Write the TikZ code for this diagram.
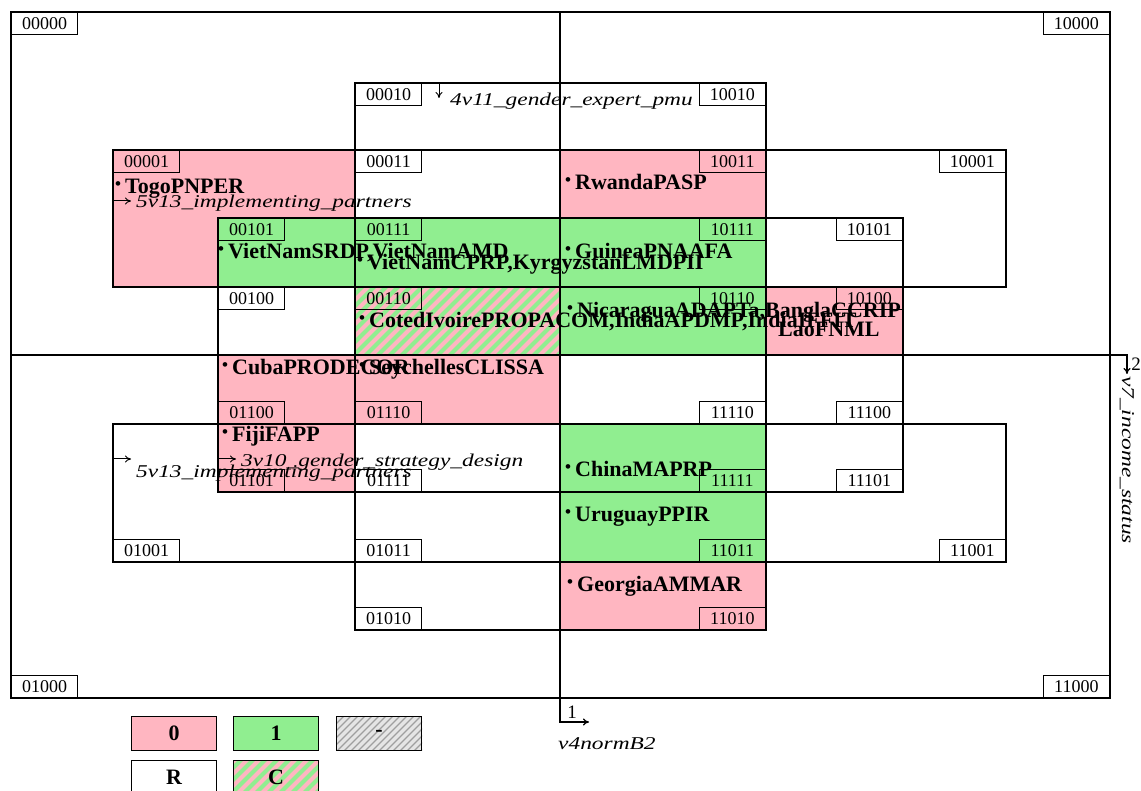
\documentclass[tikz,border=0pt]{standalone}
\usepackage{fontspec}
\setmainfont{Liberation Serif}
\usepackage{graphicx}
\usetikzlibrary{arrows.meta}
\definecolor{pk}{HTML}{FFB6C1}
\definecolor{gn}{HTML}{90EE90}
\newcommand{\bul}{{\fontsize{17}{17}\selectfont\raisebox{4pt}{\textbullet}}\hspace{4pt}}
\newcommand{\vlab}[1]{\scalebox{1.3}[1]{#1}}
\tikzset{
  bx/.style={draw, line width=1.3pt},
  code/.style={draw, line width=1.3pt, minimum width=66pt, minimum height=22pt, inner sep=0pt, font=\fontsize{18}{18}\selectfont},
  item/.style={anchor=base west, inner sep=0pt, font=\fontsize{22}{22}\selectfont\bfseries},
  var/.style={anchor=base west, inner sep=0pt, font=\fontsize{18}{18}\selectfont\itshape},
  tip/.style={-{To[length=6pt,width=7pt]}, line width=1.3pt},
  legend/.style={draw, line width=1.3pt, minimum width=85pt, minimum height=34pt, inner sep=0pt, font=\fontsize{22}{22}\selectfont\bfseries},
}
\begin{document}
\begin{tikzpicture}[x=1pt, y=-1pt]
\useasboundingbox (0,0) rectangle (1141,791);
% ---------- fills ----------
\fill[pk] (113,150) -- (355,150) -- (355,218) -- (218,218) -- (218,287) -- (113,287) -- cycle;
\fill[pk] (560,150) rectangle (766,218);
\fill[pk] (766,287) rectangle (903,355);
\fill[pk] (218,355) rectangle (355,424);
\fill[pk] (355,355) rectangle (560,424);
\fill[pk] (218,424) rectangle (355,492);
\fill[pk] (560,562) rectangle (766,630);
\fill[gn] (218,218) rectangle (355,287);
\fill[gn] (355,218) rectangle (560,287);
\fill[gn] (560,218) rectangle (766,287);
\fill[gn] (560,287) rectangle (766,355);
\fill[gn] (560,424) rectangle (766,492);
\fill[gn] (560,492) rectangle (766,562);
% hatched cell 00110
\fill[gn] (355,287) rectangle (560,355);
\begin{scope}
  \clip (355,287) rectangle (560,355);
  \foreach \s in {-84,-72,...,216} \draw[pk, line width=4pt] (355+\s,360) -- ++(80,-80);
\end{scope}
% ---------- outlines ----------
\draw[bx] (11,12) rectangle (1110,698);
\draw[bx] (355,83) rectangle (560,150);
\draw[bx] (560,83) rectangle (766,150);
\draw[bx] (355,150) rectangle (560,218);
\draw[bx] (560,150) rectangle (766,218);
\draw[bx] (113,150) -- (355,150) -- (355,218) -- (218,218) -- (218,287) -- (113,287) -- cycle;
\draw[bx] (766,150) -- (1006,150) -- (1006,287) -- (903,287) -- (903,218) -- (766,218) -- cycle;
\draw[bx] (218,218) rectangle (355,287);
\draw[bx] (355,218) rectangle (560,287);
\draw[bx] (560,218) rectangle (766,287);
\draw[bx] (766,218) rectangle (903,287);
\draw[bx] (218,287) rectangle (355,355);
\draw[bx] (355,287) rectangle (560,355);
\draw[bx] (560,287) rectangle (766,355);
\draw[bx] (766,287) rectangle (903,355);
\draw[bx] (218,355) rectangle (355,424);
\draw[bx] (355,355) rectangle (560,424);
\draw[bx] (560,355) rectangle (766,424);
\draw[bx] (766,355) rectangle (903,424);
\draw[bx] (218,424) rectangle (355,492);
\draw[bx] (355,424) rectangle (560,492);
\draw[bx] (560,424) rectangle (766,492);
\draw[bx] (766,424) rectangle (903,492);
\draw[bx] (113,424) -- (218,424) -- (218,492) -- (355,492) -- (355,562) -- (113,562) -- cycle;
\draw[bx] (355,492) rectangle (560,562);
\draw[bx] (560,492) rectangle (766,562);
\draw[bx] (903,424) -- (1006,424) -- (1006,562) -- (766,562) -- (766,492) -- (903,492) -- cycle;
\draw[bx] (355,562) rectangle (560,630);
\draw[bx] (560,562) rectangle (766,630);
% ---------- axes ----------
\coordinate (vtop) at (560,12);
\coordinate (vbend) at (560,722);
\coordinate (vend) at (589,722);
\coordinate (hleft) at (11,355);
\coordinate (hbend) at (1127,355);
\coordinate (hend) at (1127,374);
\draw[tip] (vtop) -- (vbend) -- (vend);
\draw[tip] (hleft) -- (hbend) -- (hend);
\node[font=\fontsize{19}{19}\selectfont, inner sep=0pt] (one) at (572,712) {1};
\node[var] (v4) at (558,749) {\vlab{v4normB2}};
\node[font=\fontsize{19}{19}\selectfont, inner sep=0pt] (two) at (1136,364) {2};
\node[var, rotate=-90, anchor=west] (v7) at (1127,376) {\vlab{v7\_income\_status}};
% ---------- code labels ----------
\node[code, anchor=north west] (c00000) at (11,12) {00000};
\node[code, anchor=north east] (c10000) at (1110,12) {10000};
\node[code, anchor=south west] (c01000) at (11,698) {01000};
\node[code, anchor=south east] (c11000) at (1110,698) {11000};
\node[code, anchor=north west] (c00010) at (355,83) {00010};
\node[code, anchor=north east] (c10010) at (766,83) {10010};
\node[code, anchor=north west] (c00011) at (355,150) {00011};
\node[code, anchor=north east] (c10011) at (766,150) {10011};
\node[code, anchor=north west] (c00001) at (113,150) {00001};
\node[code, anchor=north east] (c10001) at (1006,150) {10001};
\node[code, anchor=north west] (c00101) at (218,218) {00101};
\node[code, anchor=north west] (c00111) at (355,218) {00111};
\node[code, anchor=north east] (c10111) at (766,218) {10111};
\node[code, anchor=north east] (c10101) at (903,218) {10101};
\node[code, anchor=north west] (c00100) at (218,287) {00100};
\node[code, anchor=north west] (c00110) at (355,287) {00110};
\node[code, anchor=north east] (c10110) at (766,287) {10110};
\node[code, anchor=north east] (c10100) at (903,287) {10100};
\node[code, anchor=south west] (c01100) at (218,424) {01100};
\node[code, anchor=south west] (c01110) at (355,424) {01110};
\node[code, anchor=south east] (c11110) at (766,424) {11110};
\node[code, anchor=south east] (c11100) at (903,424) {11100};
\node[code, anchor=south west] (c01101) at (218,492) {01101};
\node[code, anchor=south west] (c01111) at (355,492) {01111};
\node[code, anchor=south east] (c11111) at (766,492) {11111};
\node[code, anchor=south east] (c11101) at (903,492) {11101};
\node[code, anchor=south west] (c01001) at (113,562) {01001};
\node[code, anchor=south west] (c01011) at (355,562) {01011};
\node[code, anchor=south east] (c11011) at (766,562) {11011};
\node[code, anchor=south east] (c11001) at (1006,562) {11001};
\node[code, anchor=south west] (c01010) at (355,630) {01010};
\node[code, anchor=south east] (c11010) at (766,630) {11010};
% ---------- variable arrows ----------
\coordinate (a4s) at (439,83);
\coordinate (a4e) at (439,98);
\draw[tip, line width=1pt] (a4s) -- (a4e);
\node[var] (v11) at (450,106) {\vlab{4v11\_gender\_expert\_pmu}};
\coordinate (a5s) at (113,201);
\coordinate (a5e) at (131,201);
\draw[tip, line width=1pt] (a5s) -- (a5e);
\node[var] (v13a) at (136,208) {\vlab{5v13\_implementing\_partners}};
\coordinate (b5s) at (113,459);
\coordinate (b5e) at (131,459);
\draw[tip, line width=1pt] (b5s) -- (b5e);
\node[var] (v13b) at (136,478) {\vlab{5v13\_implementing\_partners}};
\coordinate (a3s) at (218,459);
\coordinate (a3e) at (236,459);
\draw[tip, line width=1pt] (a3s) -- (a3e);
\node[var] (v10) at (241,467) {\vlab{3v10\_gender\_strategy\_design}};
% ---------- cell contents ----------
\node[item] (t00001) at (115,194) {\bul TogoPNPER};
\node[item] (t10011) at (565,190) {\bul RwandaPASP};
\node[item] (t00101) at (218,259) {\bul VietNamSRDP,VietNamAMD};
\node[item] (t00111) at (357,270) {\bul VietNamCPRP,KyrgyzstanLMDPII};
\node[item] (t10111) at (565,259) {\bul GuineaPNAAFA};
\node[item] (t00110) at (359,328) {\bul CotedIvoirePROPACOM,IndiaAPDMP,IndiaIFFIT};
\node[item] (t10110) at (567,318) {\bul NicaraguaADAPTa,BanglaCCRIP};
\node[item] (t10100) at (778,337) {LaoFNML};
\node[item] (t01100) at (222,375) {\bul CubaPRODECOR};
\node[item] (t01110) at (359,375) {\bul SeychellesCLISSA};
\node[item] (t01101) at (222,442) {\bul FijiFAPP};
\node[item] (t11111) at (565,477) {\bul ChinaMAPRP};
\node[item] (t11011) at (565,521) {\bul UruguayPPIR};
\node[item] (t11010) at (567,591) {\bul GeorgiaAMMAR};
% ---------- legend ----------
\node[legend, fill=pk, anchor=north west] (L0) at (131,716) {0};
\node[legend, fill=gn, anchor=north west] (L1) at (233,716) {1};
\fill[gray!20] (336,716) rectangle (422,750);
\begin{scope}
  \clip (336,716) rectangle (422,750);
  \foreach \s in {-42,-35,...,100} \draw[gray!75, line width=1.3pt] (336+\s,752) -- ++(40,-40);
\end{scope}
\node[legend, anchor=north west] (Ld) at (336,716) {-};
\node[legend, anchor=north west] (LR) at (131,760) {R};
\fill[gn] (233,760) rectangle (319,794);
\begin{scope}
  \clip (233,760) rectangle (319,794);
  \foreach \s in {-48,-36,...,100} \draw[pk, line width=4pt] (233+\s,798) -- ++(45,-45);
\end{scope}
\node[legend, anchor=north west] (LC) at (233,760) {C};
\end{tikzpicture}
\end{document}
